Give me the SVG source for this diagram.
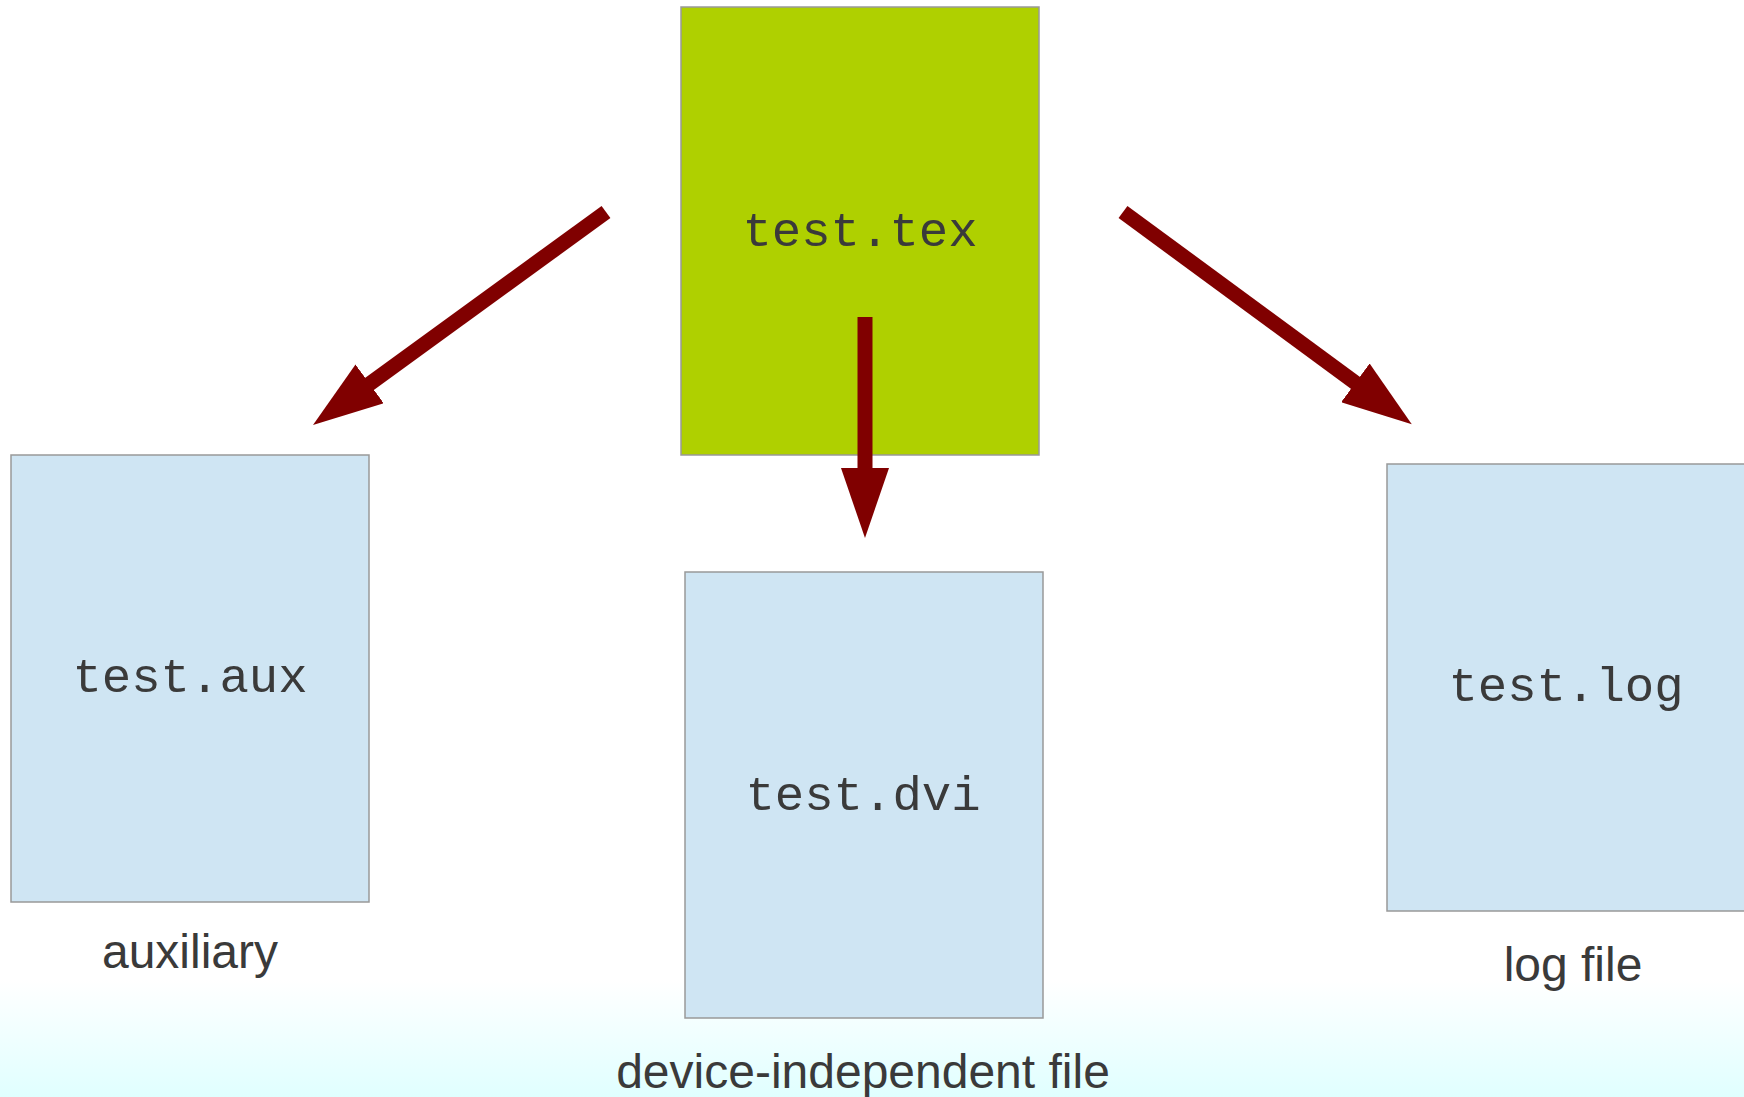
<svg xmlns="http://www.w3.org/2000/svg" width="1744" height="1097" viewBox="0 0 1744 1097">
<style>
.box{fill:#cfe5f3;stroke:#999;stroke-width:1.5}
.src{fill:#afd000;stroke:#999;stroke-width:1.5}
.mono{font-family:"Liberation Mono","Courier New",monospace;font-size:49px;fill:#3a3a3a;text-anchor:middle}
.lbl{font-family:"Liberation Sans",Arial,sans-serif;font-size:48px;fill:#3a3a3a;text-anchor:middle}
.arr{stroke:#800000;stroke-width:15;fill:none;marker-end:url(#head)}
</style>
<defs>
<linearGradient id="bg" gradientUnits="userSpaceOnUse" x1="0" y1="980" x2="0" y2="1097">
<stop offset="0" stop-color="#ffffff"/>
<stop offset="1" stop-color="#e0ffff"/>
</linearGradient>
<marker id="head" markerUnits="userSpaceOnUse" markerWidth="70" markerHeight="48" viewBox="0 0 70 48" refX="2" refY="24" orient="auto">
<path d="M0,0 L70,24 L0,48 Z" fill="#800000"/>
</marker>
</defs>
<rect x="0" y="0" width="1744" height="1097" fill="url(#bg)"/>
<g id="node-tex">
<rect class="src" x="681" y="7" width="358" height="448"/>
<text class="mono" x="860" y="246">test.tex</text>
</g>
<g id="node-aux">
<rect class="box" x="11" y="455" width="358" height="447"/>
<text class="mono" x="190" y="692">test.aux</text>
<text class="lbl" x="190" y="968">auxiliary</text>
</g>
<g id="node-dvi">
<rect class="box" x="685" y="572" width="358" height="446"/>
<text class="mono" x="863" y="810">test.dvi</text>
<text class="lbl" x="863" y="1088">device-independent file</text>
</g>
<g id="node-log">
<rect class="box" x="1387" y="464" width="360" height="447"/>
<text class="mono" x="1566" y="701">test.log</text>
<text class="lbl" x="1573" y="981">log file</text>
</g>
<g id="connectors">
<line class="arr" x1="865" y1="317" x2="865" y2="470"/>
<line class="arr" x1="606" y1="212" x2="368" y2="385"/>
<line class="arr" x1="1123" y1="212" x2="1357" y2="384"/>
</g>
</svg>
